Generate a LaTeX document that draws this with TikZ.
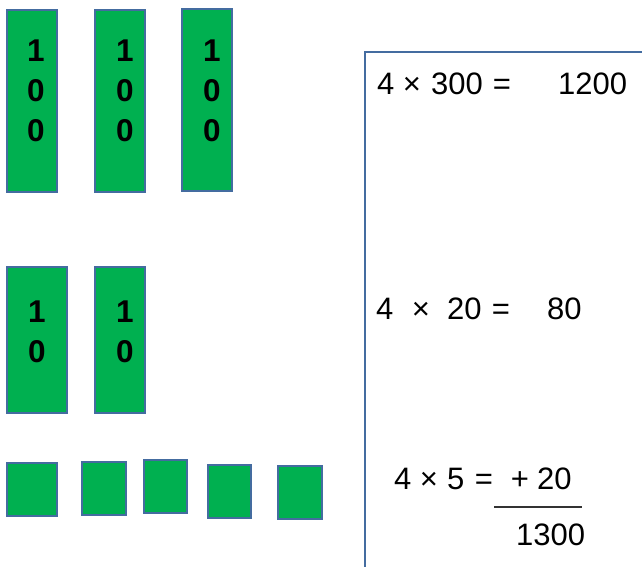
\documentclass[tikz,border=0pt]{standalone}
\usepackage{fontspec}
\setmainfont{Liberation Sans}
\definecolor{boxgreen}{HTML}{00B050}
\definecolor{edgeblue}{RGB}{68,108,160}
\begin{document}
\begin{tikzpicture}[x=1pt,y=-1pt,
  blk/.style={draw=edgeblue, fill=boxgreen, line width=1.8pt, inner sep=0pt, shape=rectangle},
  dig/.style={anchor=base, inner sep=0pt, font=\fontsize{31.5}{36}\selectfont\bfseries},
  eq/.style={anchor=base west, inner sep=0pt, font=\fontsize{31}{37}\selectfont},
  eqc/.style={anchor=base, inner sep=0pt, font=\fontsize{31}{37}\selectfont},
  frame/.style={draw=edgeblue, line width=1.8pt}]
\useasboundingbox (0,0) rectangle (642,567);
% hundreds
\node[blk, minimum width=50pt, minimum height=182pt] (h1) at (32,101) {};
\node[blk, minimum width=50pt, minimum height=182pt] (h2) at (120,101) {};
\node[blk, minimum width=50pt, minimum height=182pt] (h3) at (207,100) {};
\foreach \n/\x in {h1/36, h2/125, h3/212} {
  \node[dig] (\n a) at (\x,62) {1};
  \node[dig] (\n b) at (\x,102) {0};
  \node[dig] (\n c) at (\x,142) {0};
}
% tens
\node[blk, minimum width=60pt, minimum height=146pt] (t1) at (37,340) {};
\node[blk, minimum width=50pt, minimum height=146pt] (t2) at (120,340) {};
\foreach \n/\x in {t1/37, t2/125} {
  \node[dig] (\n a) at (\x,322) {1};
  \node[dig] (\n b) at (\x,362) {0};
}
% ones
\node[blk, minimum width=50pt, minimum height=53pt] (o1) at (32,489.5) {};
\node[blk, minimum width=44pt, minimum height=53pt] (o2) at (104,488.5) {};
\node[blk, minimum width=43pt, minimum height=53pt] (o3) at (165.5,486.5) {};
\node[blk, minimum width=43pt, minimum height=53pt] (o4) at (229.5,491.5) {};
\node[blk, minimum width=44pt, minimum height=53pt] (o5) at (300,492.5) {};
% frame
\coordinate (fb) at (365,568);
\coordinate (fc) at (365,52);
\coordinate (fr) at (643,52);
\draw[frame] (fb) -- (fc) -- (fr);
% row 1
\node[eq] (r1a) at (377,95) {4};
\node[eqc] (r1b) at (412,95) {×};
\node[eq] (r1c) at (431,95) {300};
\node[eqc] (r1d) at (502,95) {=};
\node[eq] (r1e) at (558,95) {1200};
% row 2
\node[eq] (r2a) at (376,319) {4};
\node[eqc] (r2b) at (421,319) {×};
\node[eq] (r2c) at (447,319) {20};
\node[eqc] (r2d) at (501,319) {=};
\node[eq] (r2e) at (547,319) {80};
% row 3
\node[eq] (r3a) at (394,489) {4};
\node[eqc] (r3b) at (429,489) {×};
\node[eq] (r3c) at (447,489) {5};
\node[eqc] (r3d) at (484,489) {=};
\node[eqc] (r3e) at (520,489) {+};
\node[eq] (r3f) at (537,489) {20};
\coordinate (ls) at (494,507);
\coordinate (le) at (582,507);
\draw[line width=1.2pt, black!80] (ls) -- (le);
\node[eq] (r4) at (516,545) {1300};
\end{tikzpicture}
\end{document}
